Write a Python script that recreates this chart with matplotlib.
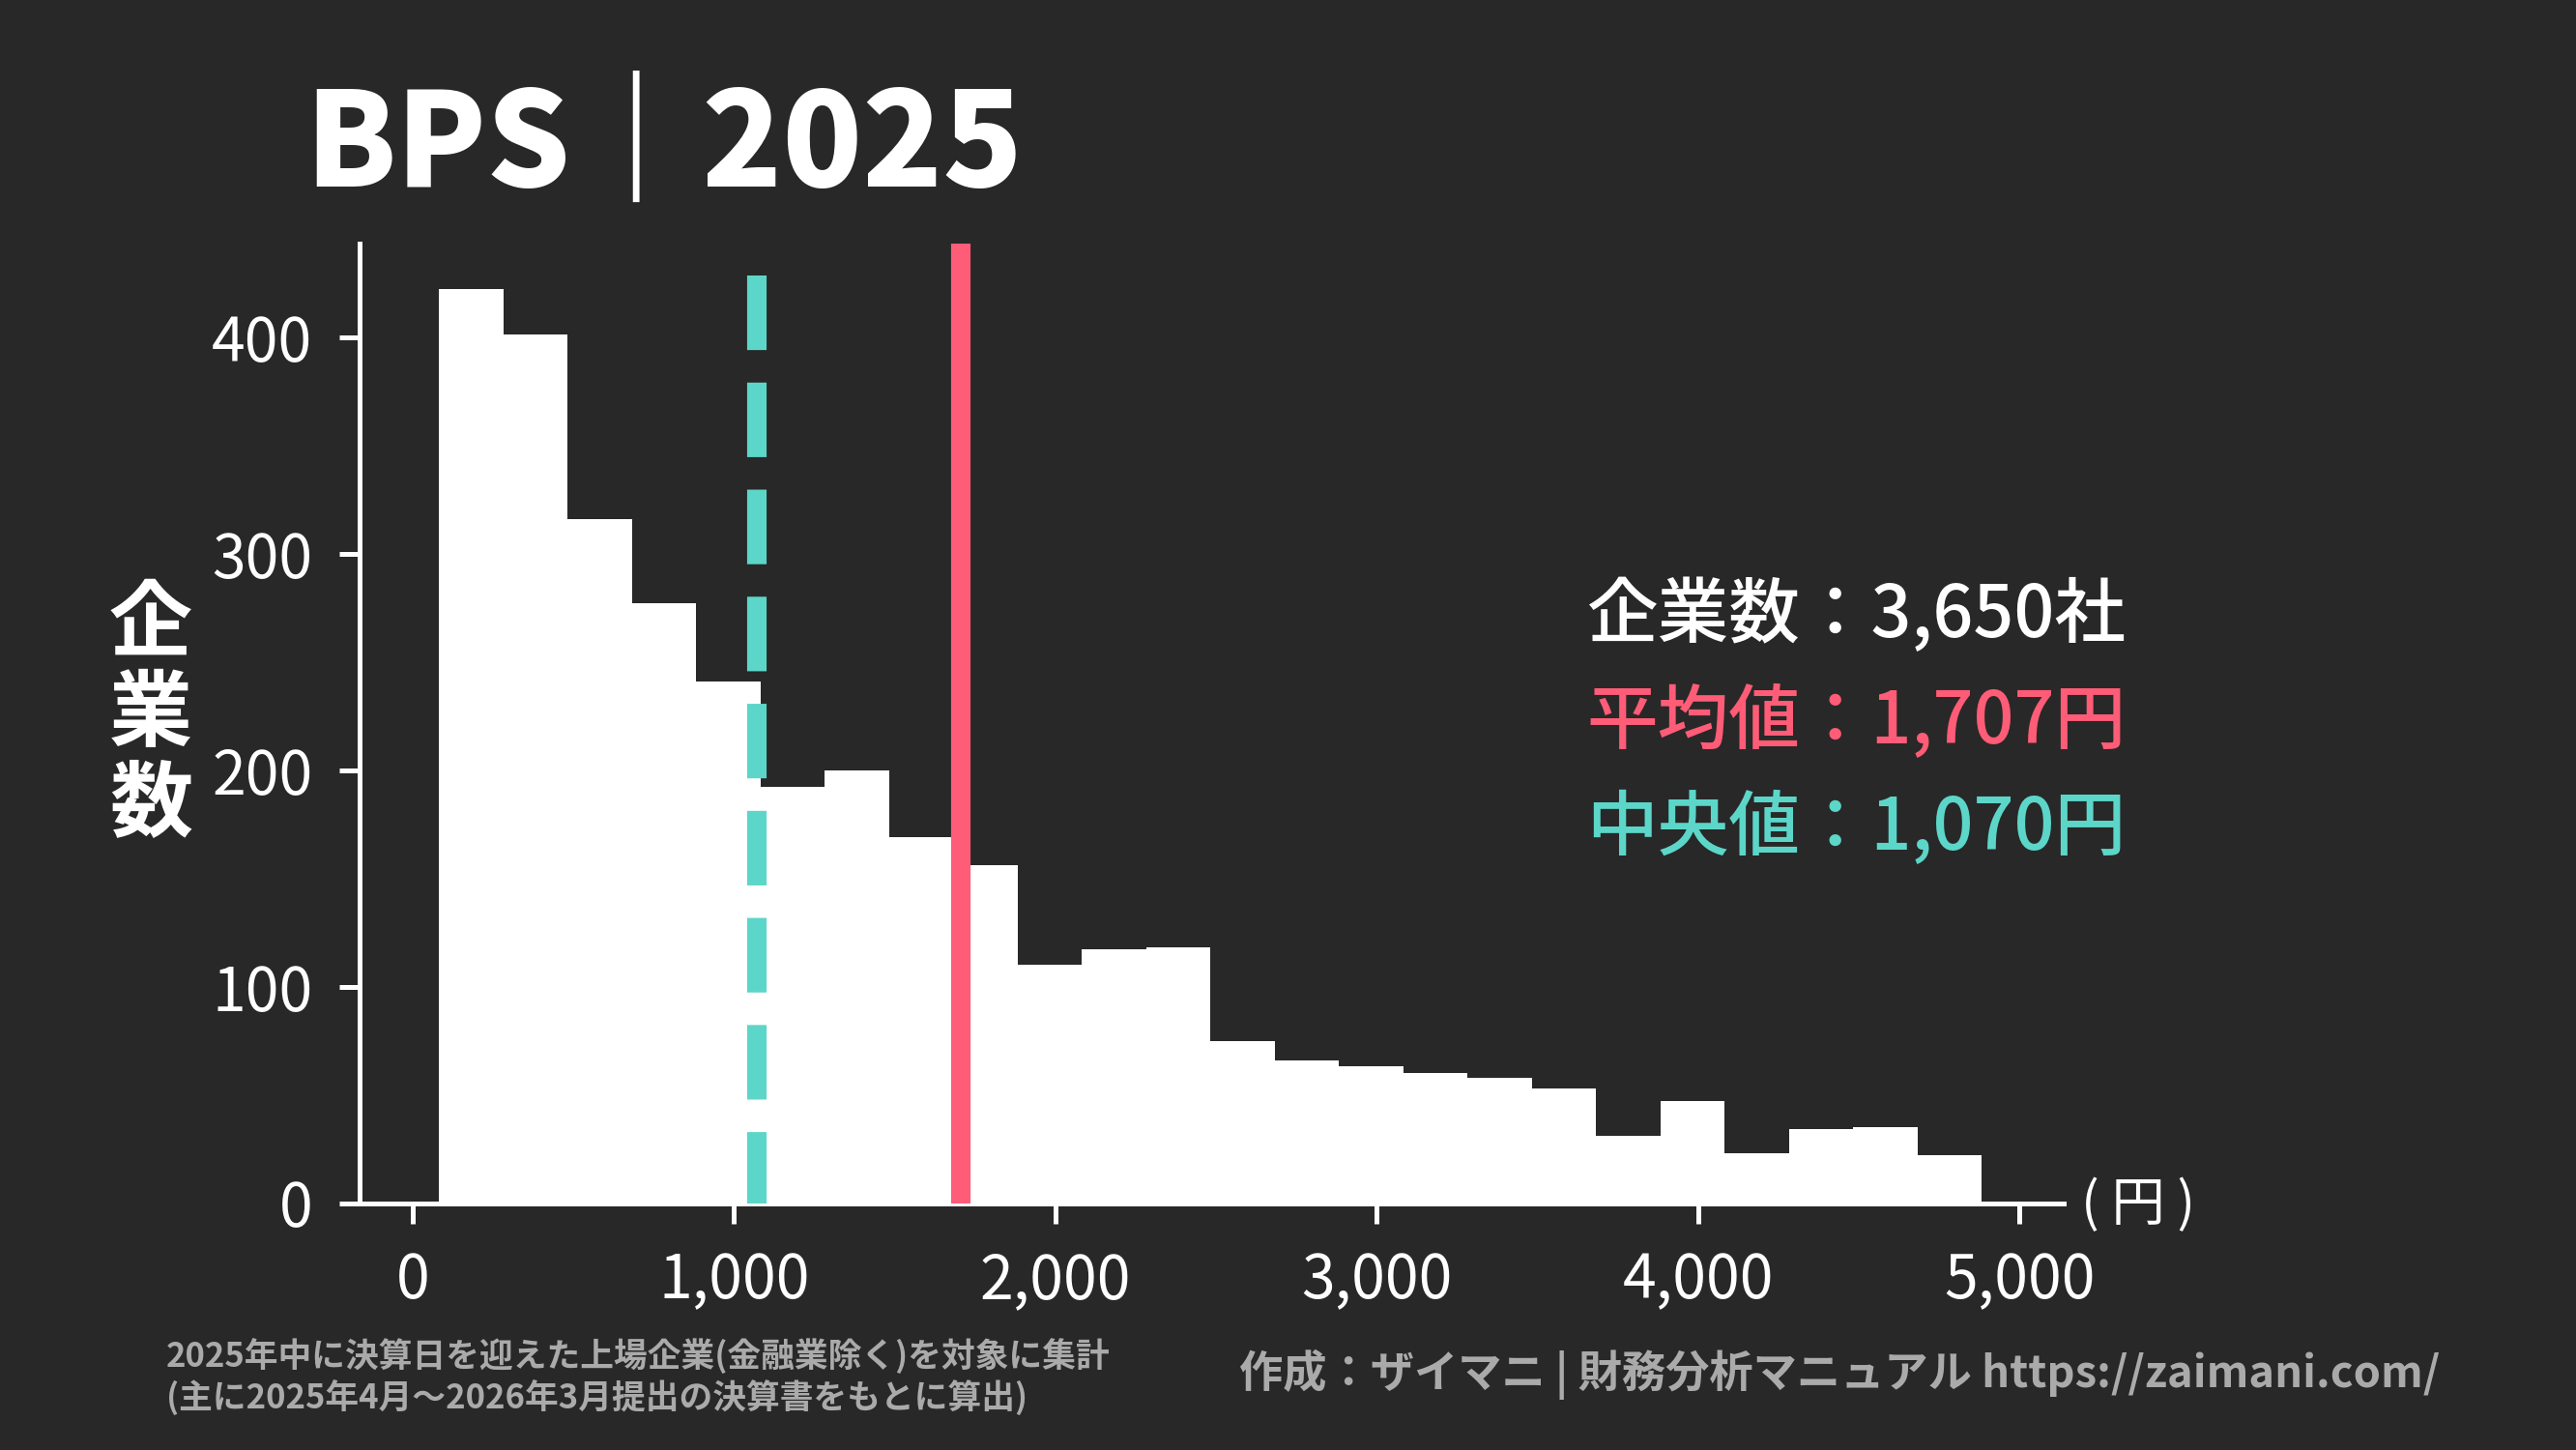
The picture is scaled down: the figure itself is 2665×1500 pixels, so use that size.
import matplotlib
matplotlib.use("Agg")
import matplotlib.pyplot as plt
import numpy as np

plt.rcParams['font.family'] = ['Noto Sans CJK JP', 'DejaVu Sans']

# histogram of BPS (yen), bins of 200 yen
bin_start = 82
bin_width = 200
counts = [422, 401, 316, 277, 241, 192, 200, 169, 156, 110, 117, 118,
          75, 66, 63, 60, 58, 53, 31, 47, 23, 34, 35, 22]
edges = bin_start + bin_width * np.arange(len(counts) + 1)

n_companies = 3650
mean_bps = 1707
median_bps = 1070

xticks = [0, 1000, 2000, 3000, 4000, 5000]
yticks = [0, 100, 200, 300, 400]

bg = '#282828'
pink = '#ff5c77'
teal = '#5cd6c8'
grey = '#aaaaaa'

W, H = 2665, 1500
fig = plt.figure(figsize=(W / 100, H / 100), dpi=100, facecolor=bg)
ax = fig.add_axes([372 / W, 1 - 1244.5 / H, (2135 - 372) / W, (1244.5 - 252) / H])
ax.set_facecolor(bg)

ymax = max(counts) * 1.05
ax.stairs(counts, edges, fill=True, color='white', zorder=2)
ax.axvline(mean_bps, ymin=0, ymax=1, color=pink, lw=14.5, zorder=3)
# dashes start from the top like the original
ax.plot([median_bps, median_bps], [ymax * 0.967, 0], color=teal, lw=14.5,
        ls=(0, (3.83, 1.67)), zorder=3)

ax.set_xlim(-165, 5137)
ax.set_ylim(0, ymax)
ax.set_xticks(xticks)
ax.set_xticklabels([f'{v:,}' for v in xticks])
ax.set_yticks(yticks)

for s in ['top', 'right']:
    ax.spines[s].set_visible(False)
for s in ['left', 'bottom']:
    ax.spines[s].set_color('white')
    ax.spines[s].set_linewidth(3.6)
ax.tick_params(colors='white', length=15, width=3.6, labelsize=45, pad=20)

# title
fig.text(315 / W, 1 - 193 / H, 'BPS｜2025', color='white', fontsize=98,
         fontweight='heavy', ha='left', va='baseline')

# y label, stacked characters
fig.text(156 / W, 1 - 740 / H, '企\n業\n数', color='white', fontsize=62,
         fontweight='bold', ha='center', va='center', linespacing=1.08)

# unit on x axis
fig.text(2153 / W, 1 - 1247 / H, '( 円 )', color='white', fontsize=40,
         ha='left', va='center')

# summary text
fig.text(1641 / W, 1 - 637 / H, f'企業数：{n_companies:,}社', color='white',
         fontsize=53, fontweight='medium', ha='left', va='center')
fig.text(1641 / W, 1 - 747 / H, f'平均値：{mean_bps:,}円', color=pink,
         fontsize=53, fontweight='medium', ha='left', va='center')
fig.text(1641 / W, 1 - 857 / H, f'中央値：{median_bps:,}円', color=teal,
         fontsize=53, fontweight='medium', ha='left', va='center')

# footers
fig.text(172 / W, 1 - 1403 / H, '2025年中に決算日を迎えた上場企業(金融業除く)を対象に集計',
         color=grey, fontsize=25, fontweight='bold', ha='left', va='center')
fig.text(172 / W, 1 - 1446 / H, '(主に2025年4月～2026年3月提出の決算書をもとに算出)',
         color=grey, fontsize=25, fontweight='bold', ha='left', va='center')
fig.text(2524 / W, 1 - 1422 / H, '作成：ザイマニ | 財務分析マニュアル https://zaimani.com/',
         color=grey, fontsize=32.6, fontweight='bold', ha='right', va='center')

fig.savefig('out.png', dpi=100, facecolor=bg)
